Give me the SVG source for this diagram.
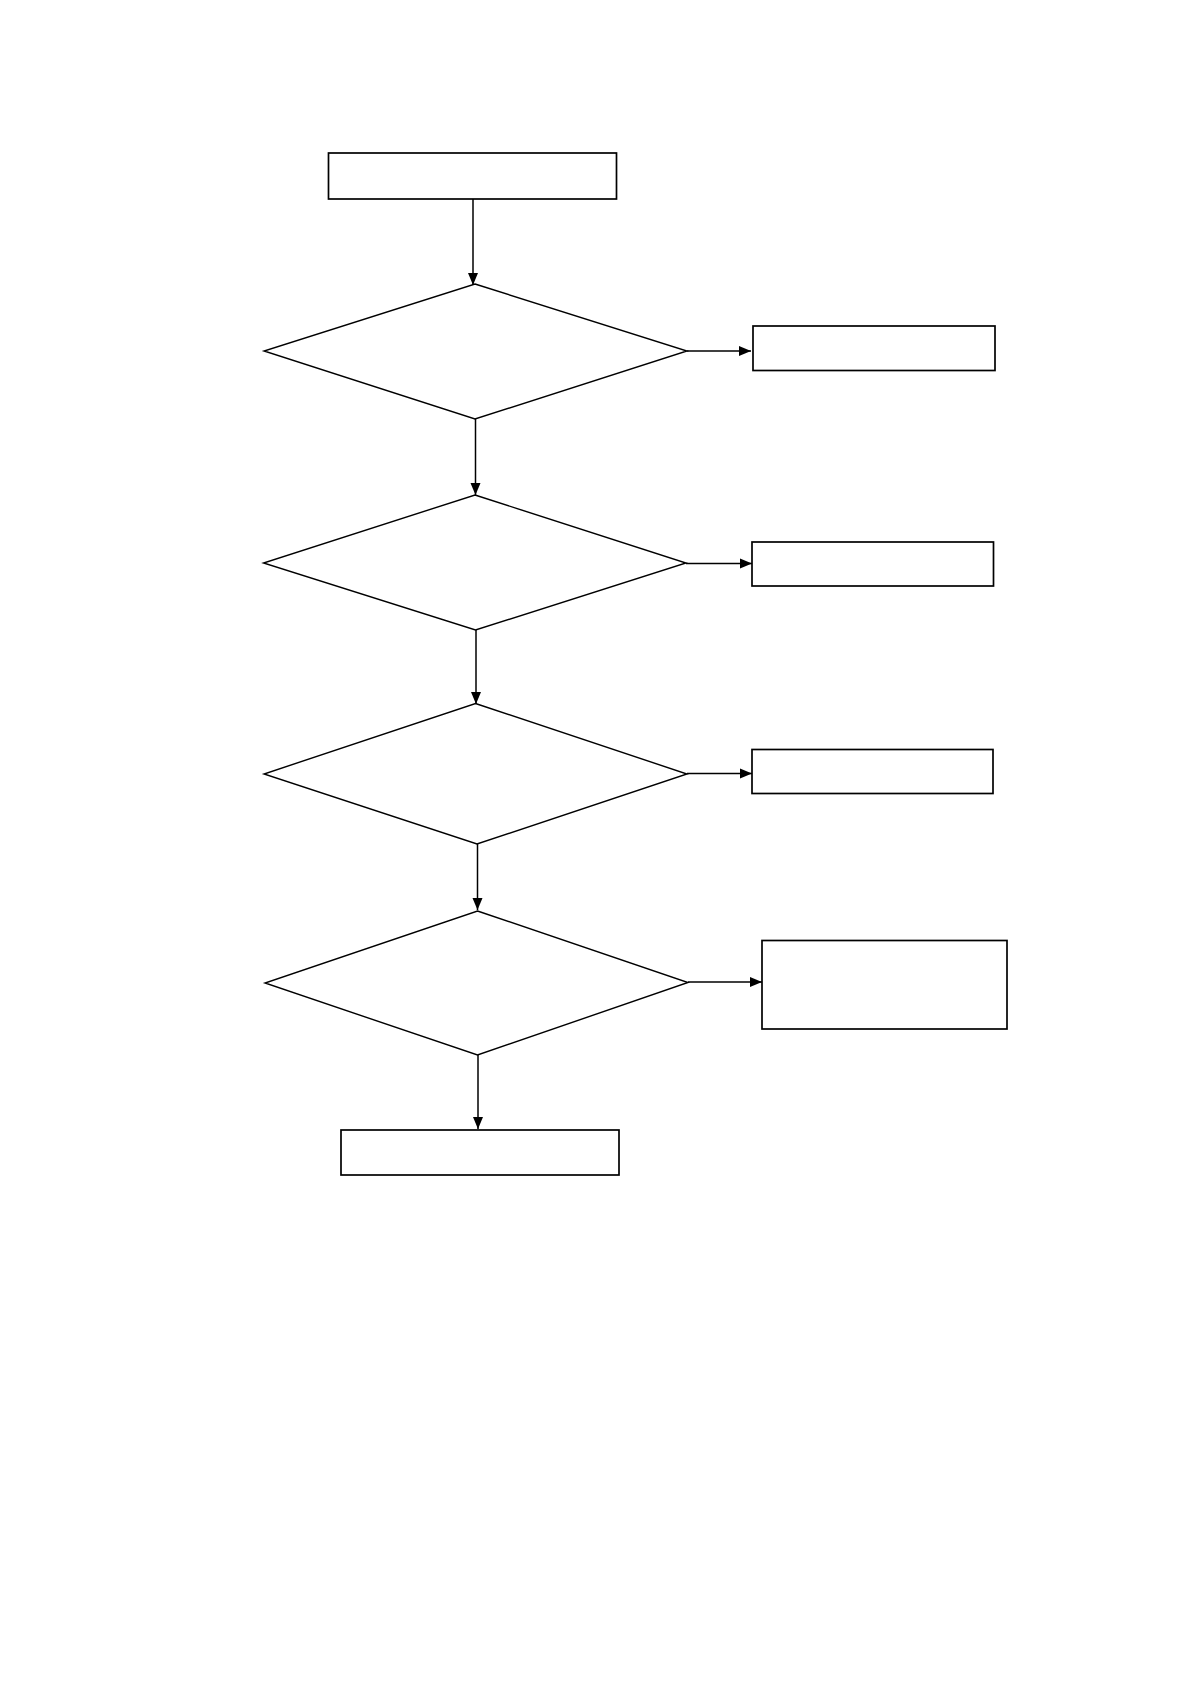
<svg xmlns="http://www.w3.org/2000/svg" width="1190" height="1684" viewBox="0 0 1190 1684">
<style>
.box{fill:#fff;stroke:#000;stroke-width:1.7}
.dia{fill:#fff;stroke:#000;stroke-width:1.4}
.con{fill:none;stroke:#000;stroke-width:1.5}
</style>
<defs>
<marker id="ah" viewBox="0 0 12 10" refX="12" refY="5" markerWidth="12" markerHeight="11" markerUnits="userSpaceOnUse" orient="auto">
<path d="M0,0 L12,5 L0,10 Z" fill="#000"/>
</marker>
</defs>
<rect width="1190" height="1684" fill="#fff"/>
<g id="start"><rect class="box" x="328.5" y="153" width="288" height="46"/></g>
<g id="d1"><polygon class="dia" points="475,284 687,351 475,419 264,351"/></g>
<g id="r1"><rect class="box" x="753" y="326" width="242" height="44.5"/></g>
<g id="d2"><polygon class="dia" points="475,495 686,563 475.5,630 263.5,563"/></g>
<g id="r2"><rect class="box" x="752" y="542" width="241.5" height="44"/></g>
<g id="d3"><polygon class="dia" points="475.5,703.5 687,774 477,844 264,774"/></g>
<g id="r3"><rect class="box" x="752" y="749.5" width="241" height="44"/></g>
<g id="d4"><polygon class="dia" points="477.5,911 688,982.5 477.5,1055 265,983"/></g>
<g id="r4"><rect class="box" x="762" y="940.5" width="245" height="88.5"/></g>
<g id="end"><rect class="box" x="341" y="1130" width="278" height="45"/></g>
<g id="connectors">
<line class="con" x1="473" y1="199" x2="473" y2="285" marker-end="url(#ah)"/>
<line class="con" x1="687" y1="351" x2="751" y2="351" marker-end="url(#ah)"/>
<line class="con" x1="475.5" y1="419" x2="475.5" y2="495" marker-end="url(#ah)"/>
<line class="con" x1="686" y1="563.5" x2="752" y2="563.5" marker-end="url(#ah)"/>
<line class="con" x1="476" y1="630" x2="476" y2="704" marker-end="url(#ah)"/>
<line class="con" x1="687" y1="773.5" x2="752" y2="773.5" marker-end="url(#ah)"/>
<line class="con" x1="477.5" y1="844" x2="477.5" y2="910" marker-end="url(#ah)"/>
<line class="con" x1="688" y1="982" x2="762" y2="982" marker-end="url(#ah)"/>
<line class="con" x1="478" y1="1055" x2="478" y2="1129" marker-end="url(#ah)"/>
</g>
</svg>
